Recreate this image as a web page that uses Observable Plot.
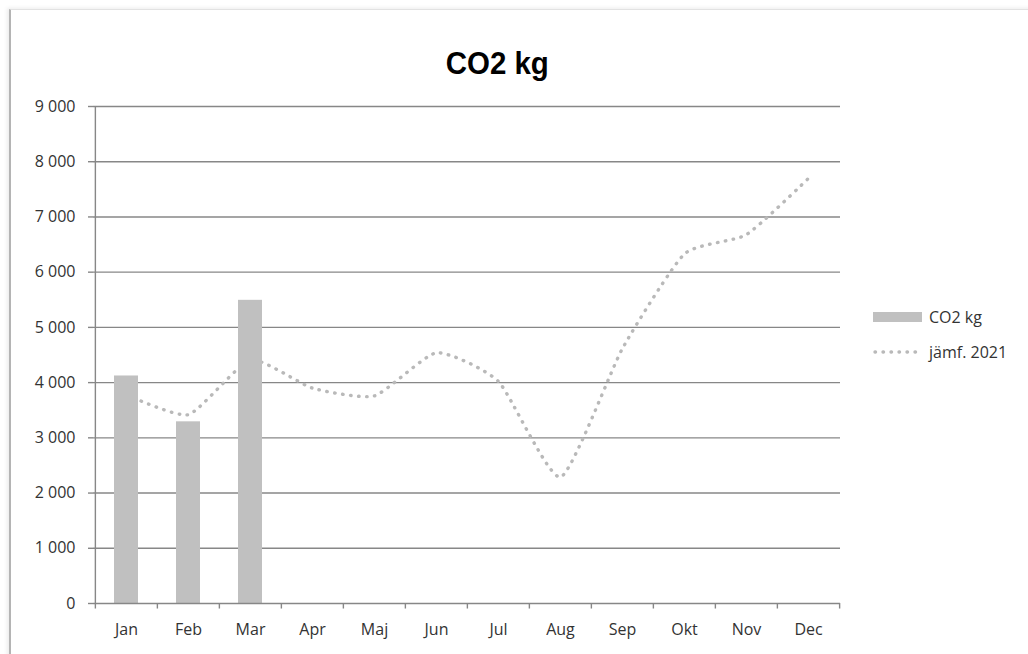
<!DOCTYPE html>
<html>
<head>
<meta charset="utf-8">
<script src="https://cdn.jsdelivr.net/npm/d3@7"></script>
<script src="https://cdn.jsdelivr.net/npm/@observablehq/plot@0.6"></script>
<style>
  html, body { margin: 0; padding: 0; background: #ffffff; }
  body { width: 1028px; height: 654px; position: relative; overflow: hidden; font-family: "Open Sans", sans-serif; }
  #frame { position: absolute; left: 9px; top: 9px; width: 1030px; height: 660px;
           border-left: 2px solid #b4b4b4; border-top: 1px solid #e2e2e2;
           box-shadow: -2px -1px 4px rgba(0,0,0,0.08); }
  #title { position: relative; height: 90px; width: 995px; text-align: center; box-sizing: border-box; padding-top: 48px; }
  #title span { display: inline-block; font-family: "Liberation Sans", Arial, sans-serif; font-weight: bold;
                font-size: 31px; line-height: 31px; color: #000; transform: scaleX(0.95); }
  #chart { position: relative; }
  #legend { position: absolute; left: 873px; top: 0; font-family: "Open Sans", sans-serif; font-size: 16px; color: #333; }
  .item { position: absolute; left: 0; white-space: nowrap; }
  .item svg { position: absolute; left: 0; }
  .item span { position: absolute; left: 56px; }
</style>
</head>
<body>
<div id="frame"></div>
<div id="title"><span>CO2 kg</span></div>
<div id="chart"></div>
<div id="legend"></div>
<script>
const months = ["Jan", "Feb", "Mar", "Apr", "Maj", "Jun", "Jul", "Aug", "Sep", "Okt", "Nov", "Dec"];
const co2Months = ["Jan", "Feb", "Mar"];
const co2Values = [4120, 3290, 5490];
const jamf2021 = [3780, 3420, 4410, 3900, 3760, 4540, 4020, 2290, 4620, 6330, 6680, 7700];
const yTicks = [0, 1000, 2000, 3000, 4000, 5000, 6000, 7000, 8000, 9000];
const seriesNames = ["CO2 kg", "jämf. 2021"];

const barData = co2Months.map((m, i) => ({month: m, value: co2Values[i]}));
const lineData = months.map((m, i) => ({month: m, value: jamf2021[i]}));

const W = 1028, H = 564, mL = 93, mR = 188, mT = 16, mB = 51;
const bw = (W - mL - mR) / months.length;
const gridColor = "#878787";
const textColor = "#333333";
const fmt = d => d3.format(",")(d).replace(/,/g, " ");

const chart = Plot.plot({
  width: W,
  height: H,
  marginLeft: mL,
  marginRight: mR,
  marginTop: mT,
  marginBottom: mB,
  style: {fontFamily: "Open Sans, sans-serif", fontSize: "16px", color: textColor, background: "transparent", overflow: "visible"},
  x: {type: "band", domain: months, padding: 0, label: null},
  y: {domain: [0, 9000], label: null},
  marks: [
    Plot.ruleY(yTicks.filter(d => d > 0), {stroke: gridColor, strokeWidth: 1.4}),
    Plot.line(lineData, {x: "month", y: "value", curve: d3.curveCardinal.tension(0.45), stroke: "#b9b9b9", strokeWidth: 3.4,
      strokeDasharray: "0.5,7.5", strokeLinecap: "round"}),
    Plot.barY(barData, {x: "month", y: "value", fill: "#c0c0c0", insetLeft: 19, insetRight: 19}),
    // axis lines
    Plot.ruleY([0], {stroke: gridColor, strokeWidth: 1.4}),
    Plot.ruleX([months[0]], {x: d => d, dx: -bw / 2, y1: 0, y2: 9000, stroke: gridColor, strokeWidth: 1.4}),
    // x ticks at band edges
    Plot.ruleX(months, {x: d => d, dx: -bw / 2, y1: 0, y2: -100, stroke: gridColor, strokeWidth: 1.4}),
    Plot.ruleX([months[months.length - 1]], {x: d => d, dx: bw / 2, y1: 0, y2: -100, stroke: gridColor, strokeWidth: 1.4}),
    Plot.axisY({ticks: yTicks, tickFormat: fmt, tickSize: 5, tickPadding: 13, stroke: gridColor, strokeWidth: 1.4, fontSize: 16, fill: textColor}),
    Plot.axisX({tickSize: 0, tickPadding: 20, fontSize: 16, fill: textColor})
  ]
});
document.getElementById("chart").appendChild(chart);

// legend
const legend = document.getElementById("legend");
const items = [
  {name: seriesNames[0], top: 306, draw: '<rect x="0" y="6" width="49" height="10" fill="#c0c0c0"/>'},
  {name: seriesNames[1], top: 341, draw: '<line x1="2" y1="11" x2="48" y2="11" stroke="#b9b9b9" stroke-width="3.4" stroke-dasharray="0.5,7.5" stroke-linecap="round"/>'}
];
for (const it of items) {
  const div = document.createElement("div");
  div.className = "item";
  div.style.top = it.top + "px";
  div.innerHTML = `<svg width="50" height="22" style="top:0">${it.draw}</svg><span style="top:0;line-height:22px">${it.name}</span>`;
  legend.appendChild(div);
}
</script>
</body>
</html>
